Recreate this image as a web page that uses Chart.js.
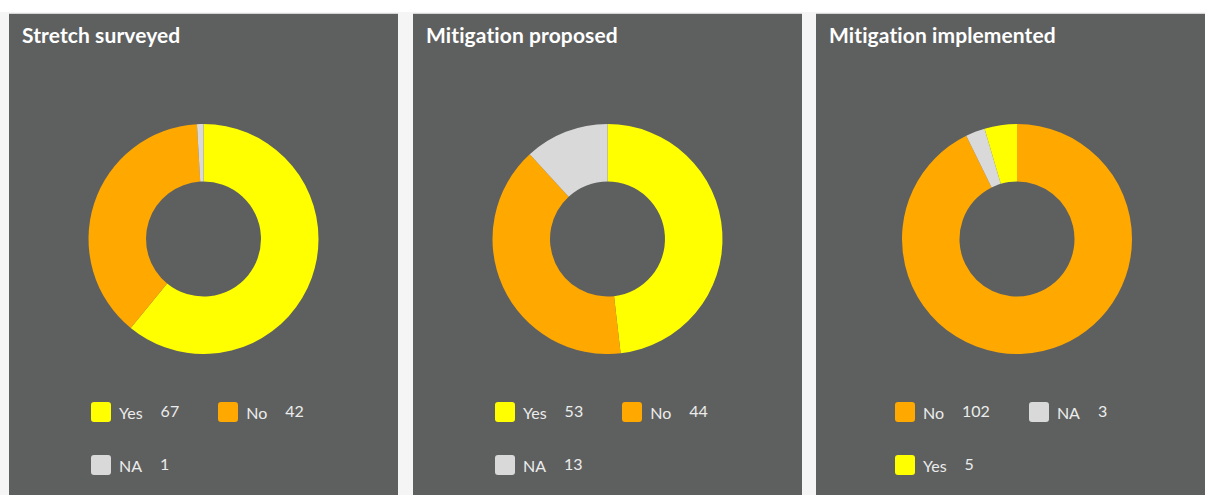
<!DOCTYPE html>
<html>
<head>
<meta charset="utf-8">
<script src="https://cdn.jsdelivr.net/npm/chart.js@4"></script>
<style>
  html, body { margin: 0; padding: 0; }
  body { width: 1205px; height: 495px; overflow: hidden; background: #fff; font-family: Lato, "Open Sans", sans-serif; }
  .strip { position: absolute; left: 0; top: 12px; width: 1205px; height: 490px; background: #f5f5f5; }
  .panel { position: absolute; top: 13px; width: 389px; height: 500px; background: #5e605f; border-top: 1px solid #d6d6d6; box-sizing: border-box; }
  .panel h2 { margin: 0; position: absolute; left: 13px; top: 8px; color: #fff; font-size: 21px; font-weight: 700; letter-spacing: 0.1px; }
  .chartBox { position: absolute; left: 0; top: 110px; width: 389px; height: 230px; }
  .legend { position: absolute; left: 82px; top: 386px; width: 300px; }
  .item { display: inline-flex; align-items: center; height: 24px; margin-right: 39px; margin-bottom: 29px; color: #ececec; font-size: 16px; }
  .sw { width: 20px; height: 20px; border-radius: 3px; margin-right: 8px; }
  .val { margin-left: 18px; position: relative; top: -2px; }
</style>
</head>
<body>
<div class="strip"></div>
<div class="panel" id="p0" style="left:9px"><h2>Stretch surveyed</h2><div class="chartBox"><canvas id="c0"></canvas></div><div class="legend" id="l0"></div></div>
<div class="panel" id="p1" style="left:413px"><h2>Mitigation proposed</h2><div class="chartBox"><canvas id="c1"></canvas></div><div class="legend" id="l1"></div></div>
<div class="panel" id="p2" style="left:816px;width:402px"><h2>Mitigation implemented</h2><div class="chartBox" style="width:402px"><canvas id="c2"></canvas></div><div class="legend" id="l2" style="left:79px"></div></div>
<script>
// datos de cada panel
const surveyedLabels = ['Yes', 'No', 'NA'];
const surveyedValues = [67, 42, 1];

const proposedLabels = ['Yes', 'No', 'NA'];
const proposedValues = [53, 44, 13];

const implementedLabels = ['No', 'NA', 'Yes'];
const implementedValues = [102, 3, 5];

const colores = { Yes: '#ffff00', No: '#ffa800', NA: '#d9d9d9' };

const paneles = [
    { labels: surveyedLabels, values: surveyedValues },
    { labels: proposedLabels, values: proposedValues },
    { labels: implementedLabels, values: implementedValues }
];

paneles.forEach((p, i) => {
    const ctx = document.getElementById('c' + i).getContext('2d');
    new Chart(ctx, {
        type: 'doughnut',
        data: {
            labels: p.labels,
            datasets: [{
                data: p.values,
                backgroundColor: p.labels.map(l => colores[l]),
                borderWidth: 0
            }]
        },
        options: {
            responsive: true,
            maintainAspectRatio: false,
            animation: false,
            cutout: '50%',
            layout: { padding: 0 },
            events: [],
            plugins: {
                legend: { display: false },
                tooltip: { enabled: false }
            }
        }
    });

    // leyenda con valores
    const legend = document.getElementById('l' + i);
    p.labels.forEach((l, j) => {
        const item = document.createElement('div');
        item.className = 'item';
        item.innerHTML = `<span class="sw" style="background:${colores[l]}"></span><span>${l}</span><span class="val">${p.values[j]}</span>`;
        legend.appendChild(item);
    });
});
</script>
</body>
</html>
